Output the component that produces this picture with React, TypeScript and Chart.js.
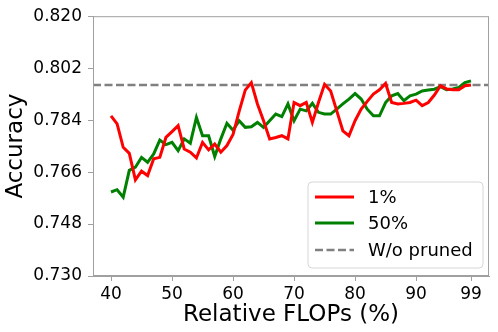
import React, { useEffect, useRef } from "react";
import { Chart, registerables } from "chart.js";

Chart.register(...registerables);

const flops: number[] = [
  40, 41, 42, 43, 44, 45, 46, 47, 48, 49,
  50, 51, 52, 53, 54, 55, 56, 57, 58, 59,
  60, 61, 62, 63, 64, 65, 66, 67, 68, 69,
  70, 71, 72, 73, 74, 75, 76, 77, 78, 79,
  80, 81, 82, 83, 84, 85, 86, 87, 88, 89,
  90, 91, 92, 93, 94, 95, 96, 97, 98, 99,
];

const acc1: number[] = [
  0.7855, 0.7827, 0.7746, 0.7725, 0.7633, 0.7663, 0.7648, 0.7706, 0.7711, 0.778,
  0.78, 0.7821, 0.774, 0.7729, 0.7709, 0.7763, 0.7737, 0.7757, 0.7729, 0.7752,
  0.779, 0.787, 0.7944, 0.797, 0.7896, 0.7838, 0.7775, 0.778, 0.7786, 0.7775,
  0.7901, 0.789, 0.7901, 0.7832, 0.7901, 0.7964, 0.7941, 0.7872, 0.7803, 0.7786,
  0.7838, 0.7878, 0.7905, 0.793, 0.7945, 0.7967, 0.7901, 0.7896, 0.7898, 0.7901,
  0.7909, 0.789, 0.7901, 0.7927, 0.7959, 0.7948, 0.7945, 0.7945, 0.7959, 0.7962,
];

const acc50: number[] = [
  0.7591, 0.7599, 0.7573, 0.7666, 0.7677, 0.7711, 0.7694, 0.7723, 0.7771, 0.7755,
  0.7763, 0.7734, 0.7775, 0.776, 0.7849, 0.7786, 0.7786, 0.7714, 0.7775, 0.7829,
  0.7805, 0.7838, 0.7815, 0.7817, 0.7832, 0.7815, 0.7838, 0.7861, 0.7852, 0.7896,
  0.7838, 0.7878, 0.7872, 0.7898, 0.7867, 0.7861, 0.7861, 0.7878, 0.7896, 0.7913,
  0.7932, 0.7913, 0.7878, 0.7855, 0.7855, 0.7901, 0.7924, 0.7932, 0.7907, 0.7924,
  0.793, 0.7941, 0.7944, 0.7947, 0.7956, 0.7945, 0.7948, 0.7953, 0.797, 0.7976,
];

const baseline = 0.7962;
const xMin = 37.05;
const xMax = 101.95;
const xTicks: number[] = [40, 50, 60, 70, 80, 90, 99];
const yTicks: number[] = [0.73, 0.748, 0.766, 0.784, 0.802, 0.82];
const seriesLabels: string[] = ["1%", "50%", "W/o pruned"];

const FONT = "'DejaVu Sans', sans-serif";

const framePlugin = {
  id: "frame",
  afterDatasetsDraw(chart: any) {
    const { ctx, chartArea } = chart;
    ctx.save();
    ctx.strokeStyle = "#a0a0a0";
    ctx.lineWidth = 1;
    ctx.strokeRect(chartArea.left + 0.5, chartArea.top + 0.5, chartArea.right - chartArea.left - 1, chartArea.bottom - chartArea.top - 1);
    ctx.restore();
  },
};

const legendPlugin = {
  id: "customLegend",
  afterDraw(chart: any) {
    const { ctx } = chart;
    const x0 = 308, y0 = 182, w = 175, h = 86;
    ctx.save();
    ctx.beginPath();
    const r = 4;
    ctx.moveTo(x0 + r, y0);
    ctx.lineTo(x0 + w - r, y0);
    ctx.quadraticCurveTo(x0 + w, y0, x0 + w, y0 + r);
    ctx.lineTo(x0 + w, y0 + h - r);
    ctx.quadraticCurveTo(x0 + w, y0 + h, x0 + w - r, y0 + h);
    ctx.lineTo(x0 + r, y0 + h);
    ctx.quadraticCurveTo(x0, y0 + h, x0, y0 + h - r);
    ctx.lineTo(x0, y0 + r);
    ctx.quadraticCurveTo(x0, y0, x0 + r, y0);
    ctx.closePath();
    ctx.fillStyle = "rgba(255,255,255,0.8)";
    ctx.fill();
    ctx.strokeStyle = "#d6d6d6";
    ctx.lineWidth = 1;
    ctx.stroke();
    const rows = [197, 223, 250];
    chart.data.datasets.forEach((ds: any, i: number) => {
      const y = rows[i];
      ctx.beginPath();
      ctx.setLineDash(ds.borderDash || []);
      ctx.strokeStyle = ds.borderColor;
      ctx.lineWidth = ds.borderWidth;
      ctx.moveTo(315, y);
      ctx.lineTo(354, y);
      ctx.stroke();
      ctx.setLineDash([]);
      ctx.fillStyle = "#000";
      ctx.font = `18px ${FONT}`;
      ctx.textBaseline = "middle";
      ctx.textAlign = "left";
      ctx.fillText(ds.label, 368, y + 1);
    });
    ctx.restore();
  },
};

export default function App() {
  const ref = useRef<HTMLCanvasElement | null>(null);
  useEffect(() => {
    document.body.style.margin = "0";
    const canvas = ref.current;
    if (!canvas) return;
    const chart = new Chart(canvas, {
      type: "line",
      data: {
        datasets: [
          {
            label: seriesLabels[0],
            data: flops.map((x, i) => ({ x, y: acc1[i] })),
            borderColor: "#ff0000",
            borderWidth: 3,
            pointRadius: 0,
            tension: 0,
            fill: false,
          },
          {
            label: seriesLabels[1],
            data: flops.map((x, i) => ({ x, y: acc50[i] })),
            borderColor: "#008000",
            borderWidth: 3,
            pointRadius: 0,
            tension: 0,
            fill: false,
          },
          {
            label: seriesLabels[2],
            data: [
              { x: xMin, y: baseline },
              { x: xMax, y: baseline },
            ],
            borderColor: "#808080",
            borderWidth: 2.5,
            borderDash: [8, 3.5],
            pointRadius: 0,
            fill: false,
          },
        ],
      },
      options: {
        animation: false,
        responsive: false,
        layout: { padding: { top: 15, right: 9, left: 0, bottom: 0 } },
        plugins: {
          legend: { display: false },
          tooltip: { enabled: false },
        },
        scales: {
          x: {
            type: "linear",
            min: xMin,
            max: xMax,
            afterBuildTicks: (s: any) => {
              s.ticks = xTicks.map((v) => ({ value: v }));
            },
            afterFit: (s: any) => {
              s.height = 56;
            },
            ticks: {
              color: "#000",
              font: { family: FONT, size: 17 },
              padding: 3,
              maxRotation: 0,
              autoSkip: false,
              callback: (v: any) => String(v),
            },
            grid: {
              drawOnChartArea: false,
              drawTicks: true,
              tickLength: 5,
              color: "#a0a0a0",
            },
            border: { display: true, color: "#a0a0a0" },
            title: {
              display: true,
              text: "Relative FLOPs (%)",
              color: "#000",
              font: { family: FONT, size: 23 },
              padding: { top: 0, bottom: 3 },
            },
          },
          y: {
            type: "linear",
            min: 0.73,
            max: 0.82,
            afterBuildTicks: (s: any) => {
              s.ticks = yTicks.map((v) => ({ value: v }));
            },
            afterFit: (s: any) => {
              s.width = 93;
            },
            ticks: {
              color: "#000",
              font: { family: FONT, size: 17 },
              padding: 6,
              autoSkip: false,
              callback: (v: any) => Number(v).toFixed(3),
            },
            grid: {
              drawOnChartArea: false,
              drawTicks: true,
              tickLength: 5,
              color: "#a0a0a0",
            },
            border: { display: true, color: "#a0a0a0" },
            title: {
              display: true,
              text: "Accuracy",
              color: "#000",
              font: { family: FONT, size: 23 },
              padding: { top: 2, bottom: 0 },
            },
          },
        },
      },
      plugins: [framePlugin, legendPlugin],
    });
    return () => chart.destroy();
  }, []);
  return (
    <div style={{ width: 498, height: 332 }}>
      <canvas ref={ref} width={498} height={332} style={{ width: 498, height: 332 }} />
    </div>
  );
}
